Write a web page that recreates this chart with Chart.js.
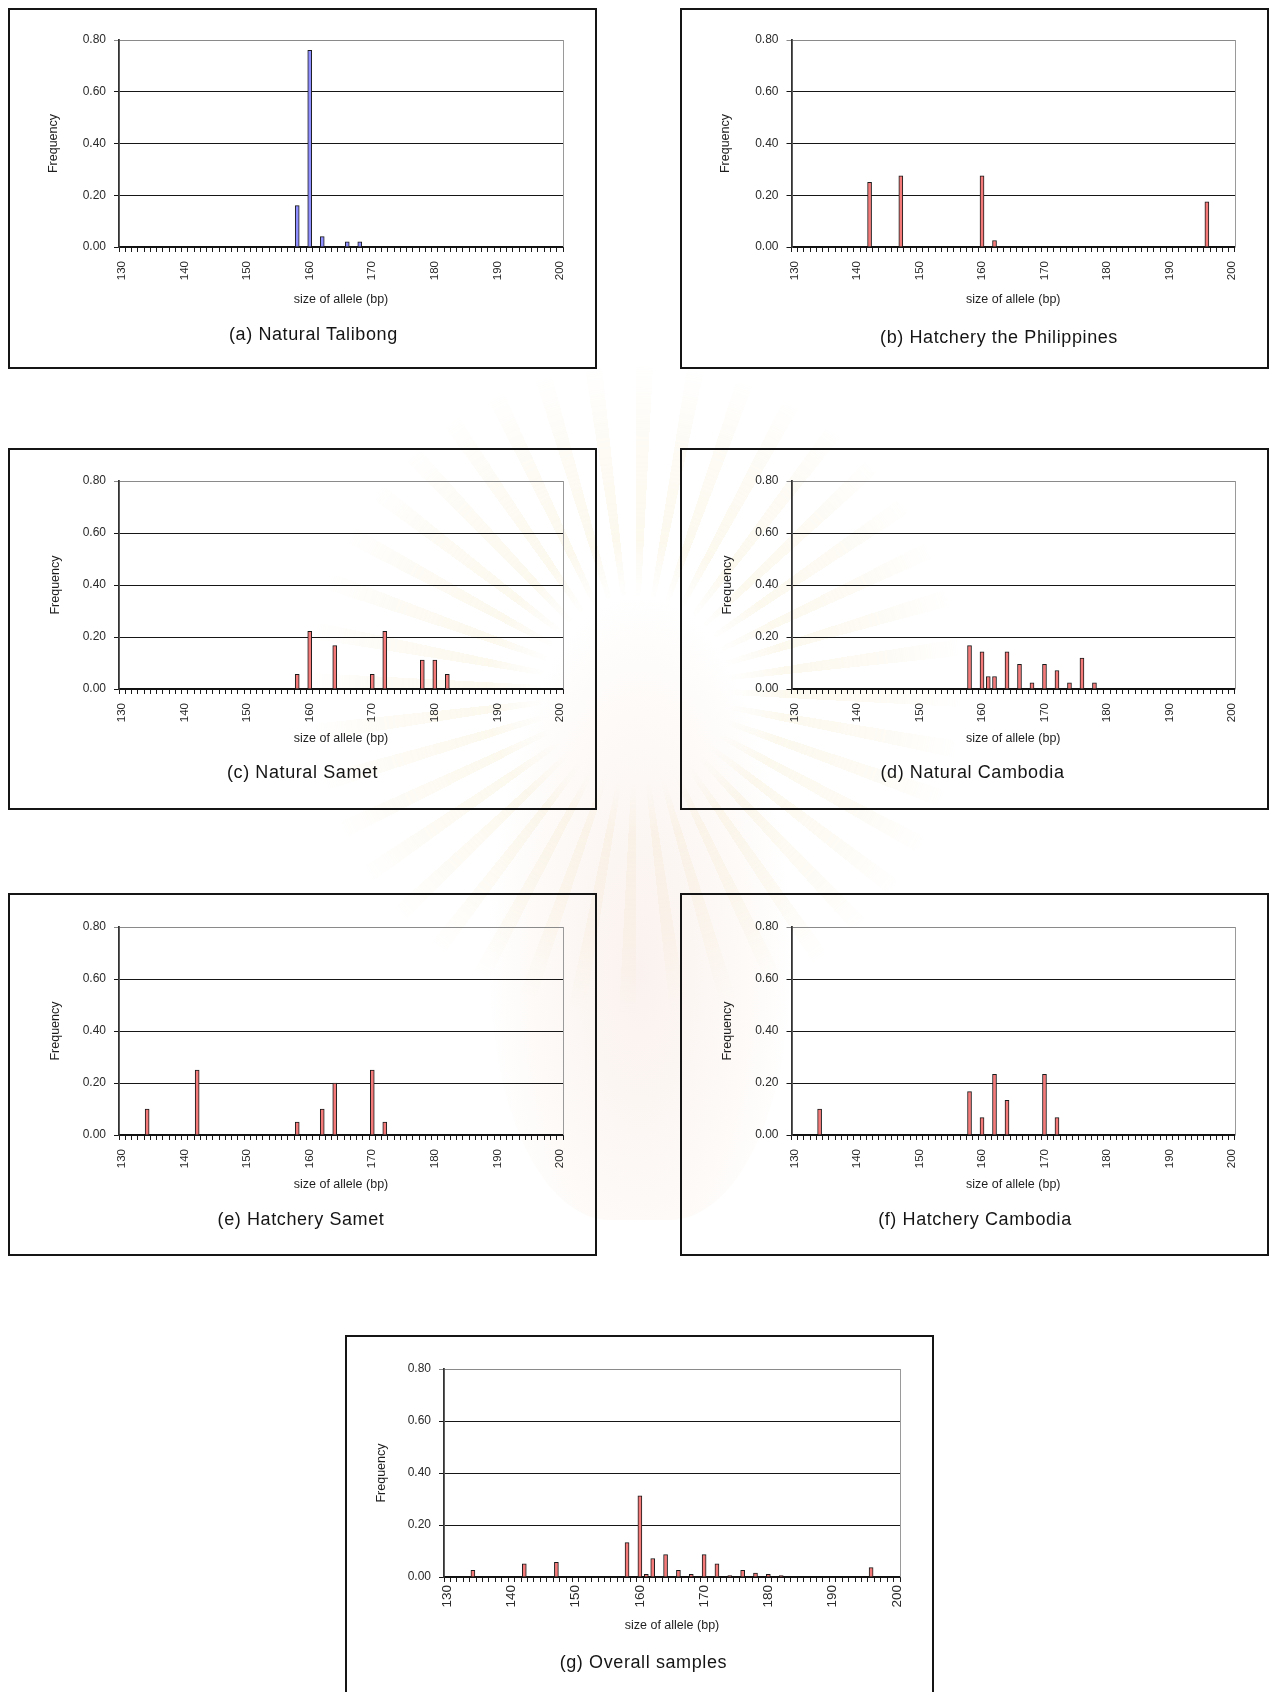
<!DOCTYPE html>
<html>
<head>
<meta charset="utf-8">
<title>Allele size frequencies</title>
<script src="https://cdn.jsdelivr.net/npm/chart.js@4/dist/chart.umd.min.js"></script>
<style>
  html, body { margin: 0; padding: 0; }
  body {
    width: 1274px; height: 1692px; position: relative; overflow: hidden;
    background: #ffffff; font-family: "Liberation Sans", Arial, sans-serif;
  }
  /* faint emblem behind the panels */
  .emblem {
    position: absolute; left: 306px; top: 360px; width: 660px; height: 660px;
    background: repeating-conic-gradient(from 0deg at 50% 50%, #f2e4b8 0deg 3deg, rgba(255,255,255,0) 3deg 9deg);
    -webkit-mask-image: radial-gradient(circle at 50% 50%, rgba(0,0,0,0) 0 20%, rgba(0,0,0,0.5) 32%, rgba(0,0,0,0.3) 55%, rgba(0,0,0,0) 70%);
    mask-image: radial-gradient(circle at 50% 50%, rgba(0,0,0,0) 0 20%, rgba(0,0,0,0.5) 32%, rgba(0,0,0,0.3) 55%, rgba(0,0,0,0) 70%);
    opacity: 0.45;
  }
  .emblem-core {
    position: absolute; left: 490px; top: 600px; width: 300px; height: 620px;
    border-radius: 45% 45% 40% 40%;
    background: radial-gradient(ellipse at 50% 60%, rgba(240,212,200,0.3) 0%, rgba(246,228,214,0.18) 50%, rgba(255,255,255,0) 72%);
  }
  .frame { position: absolute; border: 2px solid #151515; box-sizing: border-box; }
  .plot { position: absolute; }
  .caption {
    position: absolute; transform: translate(-50%, -50%); white-space: nowrap;
    font-size: 18px; letter-spacing: 0.6px; color: #151515;
  }
</style>
</head>
<body>
<div class="emblem"></div>
<div class="emblem-core"></div>
<script>
// Allele sizes on the category axis (bp)
const alleleSizes = Array.from({ length: 71 }, (_, i) => 130 + i);
const labelledSizes = [130, 140, 150, 160, 170, 180, 190, 200];
const freqTicks = [0, 0.2, 0.4, 0.6, 0.8];

// Observed alleles and their frequencies, per population
const talibongAlleles = [158, 160, 162, 166, 168];
const talibongFreq    = [0.16, 0.76, 0.04, 0.02, 0.02];

const philippinesAlleles = [142, 147, 160, 162, 196];
const philippinesFreq    = [0.25, 0.275, 0.275, 0.025, 0.175];

const sametNatAlleles = [158, 160, 164, 170, 172, 178, 180, 182];
const sametNatFreq    = [0.056, 0.222, 0.167, 0.056, 0.222, 0.111, 0.111, 0.056];

const cambodiaNatAlleles = [158, 160, 161, 162, 164, 166, 168, 170, 172, 174, 176, 178];
const cambodiaNatFreq    = [0.167, 0.143, 0.048, 0.048, 0.143, 0.095, 0.024, 0.095, 0.071, 0.024, 0.119, 0.024];

const sametHatAlleles = [134, 142, 158, 162, 164, 170, 172];
const sametHatFreq    = [0.10, 0.25, 0.05, 0.10, 0.20, 0.25, 0.05];

const cambodiaHatAlleles = [134, 158, 160, 162, 164, 170, 172];
const cambodiaHatFreq    = [0.100, 0.167, 0.067, 0.233, 0.133, 0.233, 0.067];

const overallAlleles = [134, 142, 147, 158, 160, 161, 162, 164, 166, 168, 170, 172, 174, 176, 178, 180, 182, 196];
const overallFreq    = [0.026, 0.051, 0.056, 0.132, 0.312, 0.010, 0.071, 0.086, 0.026, 0.010, 0.086, 0.051, 0.005, 0.026, 0.015, 0.010, 0.005, 0.036];

const captions = [
  '(a) Natural Talibong',
  '(b) Hatchery the Philippines',
  '(c) Natural Samet',
  '(d) Natural Cambodia',
  '(e) Hatchery Samet',
  '(f) Hatchery Cambodia',
  '(g) Overall samples'
];

// Page geometry of each panel: frame box, plot rectangle, text anchors
const panels = [
  { alleles: talibongAlleles,    freq: talibongFreq,    fill: '#8f8fff', box: [7.5, 7.5, 589, 361.5],  plot: [119, 40, 563, 247],     freqX: 54,  xTitleY: 300,    cap: [313.4, 334.4], tickPad: 9, tickSize: 11.5 },
  { alleles: philippinesAlleles, freq: philippinesFreq, fill: '#f47a7a', box: [679.5, 7.5, 589, 361.5], plot: [791.5, 40, 1235, 247],  freqX: 726, xTitleY: 300,    cap: [999, 336.5],   tickPad: 9, tickSize: 11.5 },
  { alleles: sametNatAlleles,    freq: sametNatFreq,    fill: '#f47a7a', box: [7.5, 447.5, 589, 362.5], plot: [119, 481, 563, 689],    freqX: 56,  xTitleY: 739,    cap: [302.6, 772.4], tickPad: 9, tickSize: 11.5 },
  { alleles: cambodiaNatAlleles, freq: cambodiaNatFreq, fill: '#f47a7a', box: [679.5, 447.5, 589, 362.5], plot: [791.5, 481, 1235, 689], freqX: 728, xTitleY: 739,  cap: [972.5, 772.4], tickPad: 9, tickSize: 11.5 },
  { alleles: sametHatAlleles,    freq: sametHatFreq,    fill: '#f47a7a', box: [7.5, 893, 589, 362.5],   plot: [119, 927, 563, 1135],   freqX: 56,  xTitleY: 1184.4, cap: [301, 1219],    tickPad: 9, tickSize: 11.5 },
  { alleles: cambodiaHatAlleles, freq: cambodiaHatFreq, fill: '#f47a7a', box: [679.5, 893, 589, 362.5], plot: [791.5, 927, 1235, 1135], freqX: 728, xTitleY: 1184.4, cap: [975, 1219],    tickPad: 9, tickSize: 11.5 },
  { alleles: overallAlleles,     freq: overallFreq,     fill: '#f47a7a', box: [345, 1335, 589, 400],    plot: [444, 1369, 900, 1577],  freqX: 382, xTitleY: 1625.6, cap: [643.4, 1662.3], tickPad: 3, tickSize: 13.5 }
];

const PAGE_H = 1692;
const FONT = '"Liberation Sans", Arial, sans-serif';

// Grey plot-area edge on the right-hand side
const plotEdge = {
  id: 'plotEdge',
  afterDraw(chart) {
    const { ctx, chartArea: a } = chart;
    ctx.save();
    ctx.strokeStyle = '#9a9a9a';
    ctx.lineWidth = 1;
    ctx.beginPath();
    ctx.moveTo(Math.round(a.right) + 0.5, a.top);
    ctx.lineTo(Math.round(a.right) + 0.5, a.bottom);
    ctx.stroke();
    ctx.restore();
  }
};

function spread(alleles, freq) {
  return alleleSizes.map(s => {
    const k = alleles.indexOf(s);
    return k < 0 ? null : freq[k];
  });
}

panels.forEach((p, idx) => {
  const [bx, by, bw, bh] = p.box;
  const [pl, pt, pr, pb] = p.plot;

  const frame = document.createElement('div');
  frame.className = 'frame';
  Object.assign(frame.style, { left: bx + 'px', top: by + 'px', width: bw + 'px', height: bh + 'px' });
  document.body.appendChild(frame);

  const cx = Math.round(bx), cy = Math.round(by);
  const cw = Math.round(bw);
  const ch = Math.round(Math.min(bh, PAGE_H - by));
  const canvas = document.createElement('canvas');
  canvas.className = 'plot';
  canvas.width = cw; canvas.height = ch;
  Object.assign(canvas.style, { left: cx + 'px', top: cy + 'px', width: cw + 'px', height: ch + 'px' });
  document.body.appendChild(canvas);

  const titleSize = 12.5;
  const titleLH = titleSize * 1.2;
  const yAxisW = pl - cx;
  const xAxisH = p.xTitleY - pb + titleLH / 2;

  new Chart(canvas, {
    type: 'bar',
    data: {
      labels: alleleSizes.map(String),
      datasets: [{
        data: spread(p.alleles, p.freq),
        backgroundColor: p.fill,
        borderColor: '#1a1a1a',
        borderWidth: 1,
        barThickness: 4
      }]
    },
    options: {
      responsive: false,
      animation: false,
      devicePixelRatio: 1,
      layout: {
        padding: { left: 0, top: pt - cy, right: cx + cw - pr, bottom: cy + ch - pb - xAxisH }
      },
      plugins: { legend: { display: false }, tooltip: { enabled: false }, title: { display: false } },
      scales: {
        x: {
          offset: true,
          grid: { offset: true, drawOnChartArea: false, drawTicks: true, tickLength: 5, color: '#1a1a1a', lineWidth: 1 },
          border: { color: '#111', width: 1.2 },
          ticks: {
            autoSkip: false, minRotation: 90, maxRotation: 90, padding: p.tickPad,
            color: '#2a2a2a', font: { family: FONT, size: p.tickSize },
            callback(value, index) {
              const s = alleleSizes[index];
              return labelledSizes.includes(s) ? String(s) : '';
            }
          },
          title: {
            display: true, text: 'size of allele (bp)', color: '#1e1e1e',
            font: { family: FONT, size: titleSize }, padding: { top: 0, bottom: 0 }
          },
          afterFit(scale) { scale.height = xAxisH; }
        },
        y: {
          min: 0, max: 0.8,
          afterBuildTicks(scale) { scale.ticks = freqTicks.map(v => ({ value: v })); },
          grid: {
            drawTicks: true, tickLength: 5, lineWidth: 1,
            color: ctx => (ctx.tick && ctx.tick.value === 0.8 ? '#8a8a8a' : '#161616')
          },
          border: { color: '#333', width: 1.8 },
          ticks: {
            padding: 8, color: '#2a2a2a', font: { family: FONT, size: 12 },
            callback: v => Number(v).toFixed(2)
          },
          title: {
            display: true, text: 'Frequency', color: '#1e1e1e',
            font: { family: FONT, size: titleSize },
            padding: { top: p.freqX - cx - titleLH / 2, bottom: 0 }
          },
          afterFit(scale) { scale.width = yAxisW; }
        }
      }
    },
    plugins: [plotEdge]
  });

  const cap = document.createElement('div');
  cap.className = 'caption';
  cap.textContent = captions[idx];
  Object.assign(cap.style, { left: p.cap[0] + 'px', top: p.cap[1] + 'px' });
  document.body.appendChild(cap);
});
</script>
</body>
</html>
